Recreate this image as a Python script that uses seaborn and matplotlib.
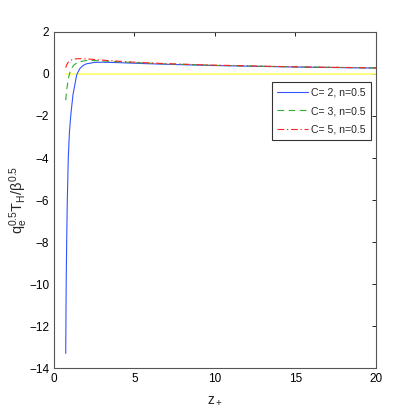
import seaborn as sns
import matplotlib.pyplot as plt

# values
z_c2 = [0.73, 0.76, 0.79, 0.83, 0.89, 0.96, 1.04, 1.18, 1.41, 1.6, 1.8, 2.0, 2.5, 3.0, 4, 5, 7, 10, 15, 20]
t_c2 = [-13.3, -10, -8, -6, -4, -2.8, -2, -1, -0.05, 0.25, 0.4, 0.48, 0.55, 0.56, 0.54, 0.51, 0.46, 0.40, 0.33, 0.28]

z_c3 = [0.73, 0.8, 0.9, 1.0, 1.2, 1.5, 2.0, 2.5, 3, 4, 5, 7, 10, 15, 20]
t_c3 = [-1.25, -0.7, -0.2, 0.1, 0.4, 0.57, 0.64, 0.64, 0.62, 0.58, 0.54, 0.48, 0.41, 0.34, 0.29]

z_c5 = [0.73, 0.8, 0.9, 1.0, 1.2, 1.5, 2.0, 2.5, 3, 4, 5, 7, 10, 15, 20]
t_c5 = [0.3, 0.45, 0.57, 0.64, 0.7, 0.73, 0.72, 0.69, 0.66, 0.61, 0.56, 0.49, 0.42, 0.34, 0.29]

z_zero = [0.73, 20]
t_zero = [0, 0]

labels = ['C= 2, n=0.5', 'C= 3, n=0.5', 'C= 5, n=0.5']

sns.set_style('white')
plt.rcParams['font.family'] = ['Liberation Sans', 'DejaVu Sans']
plt.rcParams['mathtext.fontset'] = 'custom'
plt.rcParams['mathtext.rm'] = 'Liberation Sans'
plt.rcParams['mathtext.it'] = 'Liberation Sans'

fig = plt.figure(figsize=(4.15, 4.15), dpi=100)
ax = fig.add_axes([0.130, 0.113, 0.776, 0.81])

sns.lineplot(x=z_zero, y=t_zero, ax=ax, color='#ffff66', lw=1.2)
sns.lineplot(x=z_c2, y=t_c2, ax=ax, color='#3355ff', lw=0.8, label=labels[0])
sns.lineplot(x=z_c3, y=t_c3, ax=ax, color='#33aa33', lw=0.8, label=labels[1])
sns.lineplot(x=z_c5, y=t_c5, ax=ax, color='#ff2222', lw=0.8, label=labels[2])
ax.lines[2].set_dashes((6, 4))
ax.lines[3].set_dashes((6, 2.5, 1.2, 2.5))

ax.set_xlim(0, 20)
ax.set_ylim(-14, 2)
ax.set_xticks([0, 5, 10, 15, 20])
ax.set_yticks(range(-14, 3, 2))
ax.tick_params(direction='in', length=3, width=0.6, labelsize=8.5, top=True, right=True,
               colors='black')
for s in ax.spines.values():
    s.set_color('#555555')
    s.set_linewidth(0.8)

ax.set_xlabel(r'$\mathregular{z_+}$', fontsize=10, labelpad=6)
ax.set_ylabel(r'$\mathregular{q_e^{0.5}T_H/\beta^{0.5}}$', fontsize=10.5, labelpad=-1)

leg = ax.legend(loc='upper right', bbox_to_anchor=(0.985, 0.85), fontsize=7.6,
                frameon=True, fancybox=False, handlelength=2.9, borderpad=0.5,
                labelspacing=0.8, handletextpad=0.3, borderaxespad=0)
leg.get_frame().set_edgecolor('black')
leg.get_frame().set_linewidth(0.8)

fig.savefig('out.png', dpi=100)
